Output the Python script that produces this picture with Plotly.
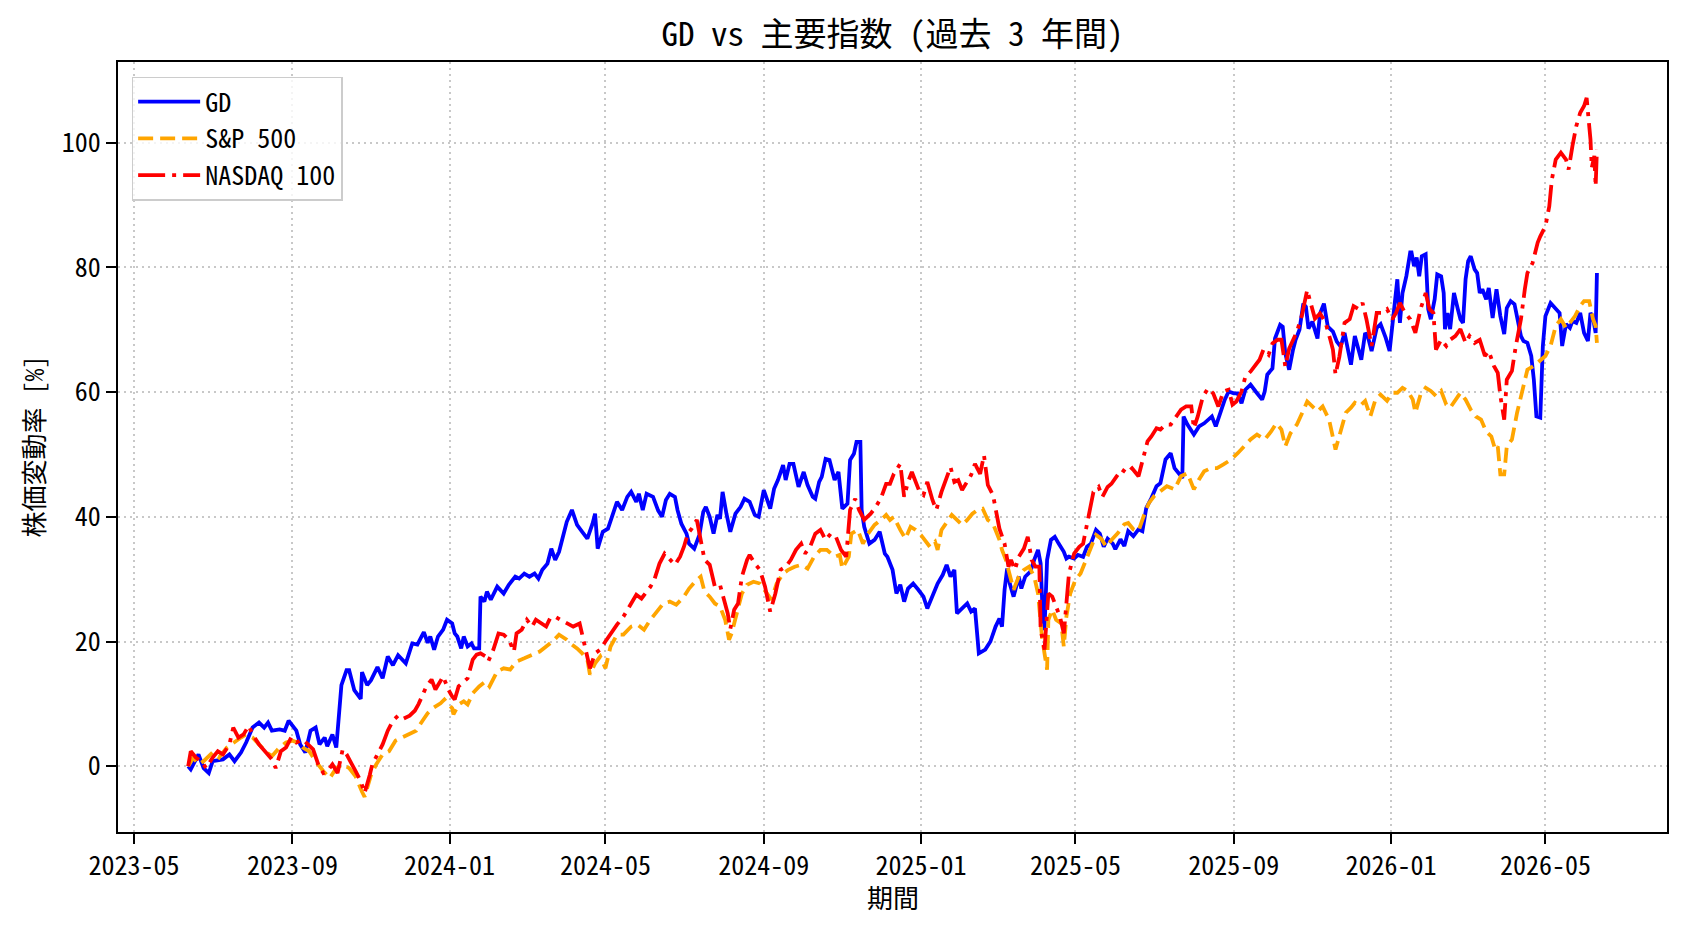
import plotly.graph_objects as go

# ---------------- data (percent change since start) ----------------
gd_dates = [
    "2023-06-12","2023-06-14","2023-06-20","2023-06-24","2023-06-28","2023-07-01","2023-07-09","2023-07-14",
    "2023-07-18","2023-07-23","2023-07-27","2023-08-01","2023-08-06","2023-08-10","2023-08-13","2023-08-16",
    "2023-08-22","2023-08-26","2023-08-29","2023-09-04","2023-09-07","2023-09-11","2023-09-15","2023-09-19",
    "2023-09-22","2023-09-26","2023-09-28","2023-10-02","2023-10-05","2023-10-09","2023-10-13","2023-10-15",
    "2023-10-19","2023-10-24","2023-10-25","2023-10-29","2023-11-01","2023-11-06","2023-11-10","2023-11-14",
    "2023-11-18","2023-11-22","2023-11-28","2023-12-03","2023-12-07","2023-12-12","2023-12-15","2023-12-17",
    "2023-12-20","2023-12-23","2023-12-27","2023-12-30","2024-01-03","2024-01-05","2024-01-07","2024-01-10",
    "2024-01-12","2024-01-15","2024-01-18","2024-01-20","2024-01-24","2024-01-25","2024-01-28","2024-01-30",
    "2024-02-02","2024-02-07","2024-02-12","2024-02-16","2024-02-21","2024-02-24","2024-02-28","2024-03-03",
    "2024-03-07","2024-03-10","2024-03-13","2024-03-17","2024-03-20","2024-03-23","2024-03-26","2024-04-01",
    "2024-04-05","2024-04-09","2024-04-13","2024-04-17","2024-04-21","2024-04-23","2024-04-25","2024-04-29",
    "2024-05-03","2024-05-08","2024-05-10","2024-05-14","2024-05-18","2024-05-21","2024-05-25","2024-05-27",
    "2024-05-30","2024-06-02","2024-06-07","2024-06-11","2024-06-14","2024-06-17","2024-06-20","2024-06-24",
    "2024-06-26","2024-06-29","2024-07-03","2024-07-05","2024-07-09","2024-07-13","2024-07-16","2024-07-18",
    "2024-07-21","2024-07-24","2024-07-27","2024-07-29","2024-07-31","2024-08-03","2024-08-06","2024-08-10",
    "2024-08-14","2024-08-17","2024-08-21","2024-08-25","2024-08-28","2024-09-01","2024-09-04","2024-09-06",
    "2024-09-09","2024-09-12","2024-09-16","2024-09-18","2024-09-21","2024-09-24","2024-09-28","2024-10-02",
    "2024-10-05","2024-10-09","2024-10-11","2024-10-14","2024-10-16","2024-10-19","2024-10-22","2024-10-26",
    "2024-10-29","2024-11-01","2024-11-05","2024-11-07","2024-11-10","2024-11-12","2024-11-15","2024-11-16",
    "2024-11-18","2024-11-22","2024-11-26","2024-11-30","2024-12-04","2024-12-06","2024-12-10","2024-12-13",
    "2024-12-16","2024-12-19","2024-12-22","2024-12-26","2024-12-30","2025-01-03","2025-01-06","2025-01-10",
    "2025-01-14","2025-01-18","2025-01-21","2025-01-24","2025-01-27","2025-01-29","2025-02-02","2025-02-06",
    "2025-02-09","2025-02-12","2025-02-15","2025-02-20","2025-02-24","2025-02-28","2025-03-03","2025-03-05",
    "2025-03-07","2025-03-09","2025-03-11","2025-03-14","2025-03-18","2025-03-20","2025-03-23","2025-03-27",
    "2025-03-30","2025-04-02","2025-04-04","2025-04-06","2025-04-07","2025-04-09","2025-04-12","2025-04-15",
    "2025-04-18","2025-04-22","2025-04-24","2025-04-26","2025-04-30","2025-05-03","2025-05-07","2025-05-10",
    "2025-05-13","2025-05-17","2025-05-20","2025-05-23","2025-05-26","2025-05-30","2025-06-01","2025-06-05",
    "2025-06-08","2025-06-11","2025-06-15","2025-06-19","2025-06-22","2025-06-25","2025-06-29","2025-07-03",
    "2025-07-06","2025-07-10","2025-07-14","2025-07-17","2025-07-21","2025-07-23","2025-07-24","2025-07-27",
    "2025-08-01","2025-08-05","2025-08-09","2025-08-12","2025-08-15","2025-08-18","2025-08-22","2025-08-25",
    "2025-08-28","2025-09-01","2025-09-04","2025-09-07","2025-09-10","2025-09-14","2025-09-18","2025-09-23",
    "2025-09-25","2025-09-27","2025-10-01","2025-10-03","2025-10-07","2025-10-09","2025-10-11","2025-10-14",
    "2025-10-17","2025-10-19","2025-10-22","2025-10-25","2025-10-27","2025-10-29","2025-11-01","2025-11-05",
    "2025-11-07","2025-11-10","2025-11-13","2025-11-17","2025-11-20","2025-11-23","2025-11-26","2025-11-28",
    "2025-12-01","2025-12-04","2025-12-07","2025-12-09","2025-12-12","2025-12-14","2025-12-17","2025-12-21",
    "2025-12-24","2025-12-28","2025-12-31","2026-01-03","2026-01-06","2026-01-08","2026-01-10","2026-01-13",
    "2026-01-16","2026-01-17","2026-01-19","2026-01-21","2026-01-23","2026-01-25","2026-01-28","2026-01-30",
    "2026-02-01","2026-02-04","2026-02-06","2026-02-09","2026-02-11","2026-02-12","2026-02-14","2026-02-16",
    "2026-02-19","2026-02-22","2026-02-24","2026-02-26","2026-02-28","2026-03-02","2026-03-04","2026-03-07",
    "2026-03-09","2026-03-11","2026-03-13","2026-03-16","2026-03-18","2026-03-21","2026-03-24","2026-03-27",
    "2026-03-30","2026-04-01","2026-04-04","2026-04-07","2026-04-09","2026-04-12","2026-04-14","2026-04-17",
    "2026-04-20","2026-04-22","2026-04-24","2026-04-27","2026-04-29","2026-05-01","2026-05-05","2026-05-09",
    "2026-05-12","2026-05-14","2026-05-17","2026-05-20","2026-05-22","2026-05-25","2026-05-28","2026-05-31",
    "2026-06-03","2026-06-05","2026-06-07","2026-06-09","2026-06-10",
]
gd_values = [
    0.0,-0.5,1.9,-0.3,-1.1,0.8,1.1,1.9,
    0.8,2.2,3.8,6.2,7.0,6.2,7.0,5.7,
    5.9,5.7,7.3,5.7,3.5,2.2,5.7,6.2,
    3.5,4.6,3.2,5.1,3.0,13.0,15.4,15.4,
    12.2,10.8,15.1,13.0,13.8,15.9,14.1,17.6,
    16.2,17.8,16.5,19.7,19.5,21.5,19.8,20.8,
    18.7,20.8,21.9,23.5,22.9,21.3,20.8,18.9,
    20.8,19.2,19.7,18.9,18.9,27.2,26.4,28.0,
    26.7,28.8,27.7,29.1,30.4,30.1,30.9,30.4,
    30.9,30.1,31.5,32.5,34.9,33.1,34.4,39.2,
    41.1,38.7,37.6,36.5,38.9,40.5,34.9,37.6,
    38.1,41.1,42.4,41.1,43.2,44.0,42.4,43.7,
    41.1,43.7,43.2,41.0,40.0,42.7,43.7,43.2,
    41.1,38.9,37.3,35.7,34.9,37.1,40.8,41.6,
    40.0,37.3,40.3,39.7,44.0,40.5,37.6,40.5,
    41.6,42.9,42.4,40.3,40.0,44.3,42.4,41.3,
    44.5,45.9,48.3,45.9,48.5,48.5,44.8,47.2,
    45.1,43.2,42.9,45.6,46.4,49.3,49.1,45.9,
    47.2,41.3,42.1,49.1,50.1,52.0,52.0,41.1,
    38.4,35.7,36.3,37.6,34.1,33.6,31.5,27.7,
    29.1,26.4,28.5,29.3,28.3,27.2,25.3,27.2,
    29.3,30.7,32.3,30.4,31.5,24.5,25.3,26.1,
    24.8,25.3,18.1,18.7,20.0,22.4,23.7,22.4,
    28.3,31.7,29.3,27.2,30.4,28.5,30.4,31.2,
    33.1,34.7,32.5,22.4,21.9,33.1,36.3,36.8,
    35.7,34.4,33.3,33.6,33.3,33.9,33.6,35.2,
    35.7,37.9,37.3,35.2,36.5,35.7,34.8,36.4,
    35.3,37.7,36.9,38.0,37.7,41.4,43.0,44.9,
    45.4,49.2,50.2,47.8,46.8,46.2,56.1,54.8,
    53.2,54.5,55.0,55.6,56.1,54.5,56.9,58.8,
    60.1,59.8,59.8,58.2,60.4,61.2,60.1,58.8,
    60.1,62.8,63.8,68.6,70.8,70.5,66.2,63.6,
    66.8,68.4,70.0,74.2,73.7,70.2,71.3,68.6,
    72.6,74.2,70.5,69.7,68.1,67.3,69.5,67.4,
    64.4,69.0,66.8,65.2,69.5,69.0,66.6,70.3,
    70.9,68.7,66.6,72.7,78.1,71.1,75.9,78.6,
    82.4,82.4,80.2,81.6,78.6,81.8,82.1,73.3,
    71.7,74.9,78.9,78.6,75.9,70.1,72.7,70.1,
    75.9,73.3,71.7,71.1,78.1,81.0,81.8,79.7,
    79.1,75.9,76.5,74.9,76.7,71.9,76.5,72.2,
    69.3,73.5,74.6,74.1,71.7,69.0,68.2,67.9,
    65.8,62.0,56.1,55.9,67.4,72.2,74.3,73.3,
    72.7,67.4,70.9,70.3,71.4,71.1,72.7,69.5,
    68.2,72.7,71.9,69.5,79.1,
]

sp_dates = [
    "2023-06-12","2023-06-16","2023-06-20","2023-06-24","2023-07-01","2023-07-06","2023-07-12","2023-07-17",
    "2023-07-23","2023-07-27","2023-08-01","2023-08-06","2023-08-11","2023-08-16","2023-08-22","2023-08-27",
    "2023-09-01","2023-09-05","2023-09-09","2023-09-14","2023-09-19","2023-09-25","2023-09-30","2023-10-05",
    "2023-10-10","2023-10-15","2023-10-20","2023-10-25","2023-10-27","2023-11-01","2023-11-05","2023-11-10",
    "2023-11-15","2023-11-20","2023-11-25","2023-12-01","2023-12-06","2023-12-11","2023-12-15","2023-12-19",
    "2023-12-25","2023-12-28","2024-01-03","2024-01-04","2024-01-08","2024-01-12","2024-01-15","2024-01-19",
    "2024-01-24","2024-01-29","2024-02-01","2024-02-07","2024-02-12","2024-02-17","2024-02-22","2024-02-28",
    "2024-03-05","2024-03-11","2024-03-16","2024-03-21","2024-03-26","2024-04-01","2024-04-05","2024-04-09",
    "2024-04-13","2024-04-17","2024-04-19","2024-04-23","2024-04-27","2024-05-01","2024-05-05","2024-05-10",
    "2024-05-15","2024-05-21","2024-05-26","2024-05-31","2024-06-05","2024-06-09","2024-06-15","2024-06-20",
    "2024-06-25","2024-07-01","2024-07-05","2024-07-11","2024-07-14","2024-07-17","2024-07-21","2024-07-25",
    "2024-07-29","2024-08-02","2024-08-05","2024-08-07","2024-08-11","2024-08-15","2024-08-19","2024-08-24",
    "2024-08-29","2024-09-04","2024-09-07","2024-09-11","2024-09-16","2024-09-20","2024-09-25","2024-09-30",
    "2024-10-05","2024-10-10","2024-10-15","2024-10-20","2024-10-26","2024-10-30","2024-11-01","2024-11-06",
    "2024-11-08","2024-11-13","2024-11-17","2024-11-21","2024-11-26","2024-12-01","2024-12-05","2024-12-08",
    "2024-12-11","2024-12-16","2024-12-20","2024-12-24","2024-12-28","2025-01-01","2025-01-04","2025-01-08",
    "2025-01-12","2025-01-14","2025-01-17","2025-01-21","2025-01-25","2025-01-29","2025-02-02","2025-02-06",
    "2025-02-10","2025-02-14","2025-02-18","2025-02-22","2025-02-26","2025-03-03","2025-03-05","2025-03-08",
    "2025-03-11","2025-03-14","2025-03-18","2025-03-22","2025-03-26","2025-03-30","2025-04-02","2025-04-05",
    "2025-04-07","2025-04-09","2025-04-10","2025-04-13","2025-04-16","2025-04-20","2025-04-22","2025-04-24",
    "2025-04-27","2025-05-01","2025-05-05","2025-05-09","2025-05-13","2025-05-17","2025-05-21","2025-05-25",
    "2025-05-29","2025-06-03","2025-06-08","2025-06-11","2025-06-15","2025-06-19","2025-06-23","2025-06-27",
    "2025-07-01","2025-07-06","2025-07-11","2025-07-17","2025-07-22","2025-07-27","2025-08-01","2025-08-05",
    "2025-08-09","2025-08-14","2025-08-19","2025-08-24","2025-08-30","2025-09-04","2025-09-09","2025-09-14",
    "2025-09-19","2025-09-25","2025-09-30","2025-10-04","2025-10-08","2025-10-11","2025-10-15","2025-10-20",
    "2025-10-24","2025-10-28","2025-11-01","2025-11-05","2025-11-09","2025-11-14","2025-11-19","2025-11-23",
    "2025-11-27","2025-12-01","2025-12-04","2025-12-08","2025-12-12","2025-12-16","2025-12-20","2025-12-24",
    "2025-12-29","2026-01-02","2026-01-06","2026-01-10","2026-01-14","2026-01-18","2026-01-20","2026-01-24",
    "2026-01-28","2026-02-01","2026-02-05","2026-02-09","2026-02-13","2026-02-16","2026-02-20","2026-02-24",
    "2026-02-28","2026-03-04","2026-03-08","2026-03-12","2026-03-16","2026-03-20","2026-03-23","2026-03-25",
    "2026-03-27","2026-03-30","2026-04-01","2026-04-05","2026-04-09","2026-04-13","2026-04-17","2026-04-22",
    "2026-04-27","2026-05-01","2026-05-05","2026-05-09","2026-05-13","2026-05-17","2026-05-20","2026-05-24",
    "2026-05-28","2026-05-31","2026-06-04","2026-06-07","2026-06-09","2026-06-10",
]
sp_values = [
    0.0,1.4,0.3,0.8,2.2,1.4,3.0,3.8,
    4.6,5.1,4.6,3.5,2.4,1.6,3.0,3.8,
    4.1,3.8,3.0,2.4,0.8,-0.8,-1.9,-0.3,
    0.3,-0.3,-1.6,-4.1,-4.9,-1.4,0.3,1.9,
    2.4,4.1,4.6,5.1,5.7,7.3,8.5,9.3,
    10.1,10.7,9.3,8.3,9.9,10.4,9.9,11.7,
    12.8,13.6,12.8,15.2,15.7,15.5,16.8,17.3,
    17.9,18.4,19.2,20.0,21.1,20.3,19.5,18.9,
    18.1,17.1,14.7,16.5,17.6,15.7,19.2,21.1,
    21.1,22.4,22.7,21.9,23.5,24.5,26.1,26.4,
    25.9,27.2,28.5,29.9,30.4,28.0,27.2,26.1,
    25.6,23.5,20.3,21.3,24.5,27.7,29.1,29.6,
    29.3,27.7,26.7,29.3,30.9,31.5,32.0,32.3,
    31.7,33.6,34.7,34.7,33.6,33.9,31.7,33.6,
    37.3,37.9,35.7,37.3,38.7,39.5,40.3,39.5,
    40.0,37.9,36.5,38.4,37.9,37.1,36.3,35.2,
    36.0,34.7,37.9,39.2,40.3,39.5,38.7,39.5,
    40.5,41.1,41.3,39.5,38.9,36.3,34.7,33.1,
    30.9,28.3,30.4,31.5,32.0,30.4,27.7,20.8,
    18.1,15.5,23.5,25.1,23.5,22.9,19.2,24.0,
    27.7,29.9,30.9,33.1,35.2,37.1,36.5,35.2,
    36.3,37.4,38.8,39.0,38.0,37.7,40.1,42.2,
    43.3,44.1,44.9,44.4,46.5,47.0,44.4,46.0,
    47.3,47.8,47.8,48.4,49.2,50.2,51.3,52.4,
    53.2,52.4,53.7,55.0,54.0,51.3,53.4,54.8,
    56.6,58.5,57.7,56.9,57.7,55.6,50.8,54.0,
    56.7,57.5,58.3,57.8,58.6,56.1,58.8,59.6,
    58.6,59.9,59.9,60.7,60.2,58.8,56.7,59.6,
    60.7,60.2,59.4,60.2,58.0,57.5,58.8,59.9,
    58.8,57.2,56.1,55.6,53.7,52.9,50.8,51.3,
    46.8,46.8,51.3,52.4,56.7,59.9,63.6,64.2,
    65.2,65.8,67.4,70.6,71.7,70.3,71.1,72.2,
    73.8,74.6,74.6,71.7,70.6,67.9,
]

nq_dates = [
    "2023-06-12","2023-06-14","2023-06-18","2023-06-22","2023-06-26","2023-07-01","2023-07-05","2023-07-09",
    "2023-07-14","2023-07-17","2023-07-21","2023-07-25","2023-07-29","2023-08-01","2023-08-06","2023-08-11",
    "2023-08-16","2023-08-19","2023-08-23","2023-08-27","2023-08-31","2023-09-04","2023-09-09","2023-09-13",
    "2023-09-17","2023-09-21","2023-09-25","2023-09-28","2023-10-02","2023-10-06","2023-10-10","2023-10-13",
    "2023-10-17","2023-10-20","2023-10-24","2023-10-27","2023-10-31","2023-11-02","2023-11-06","2023-11-10",
    "2023-11-14","2023-11-18","2023-11-22","2023-11-26","2023-12-01","2023-12-05","2023-12-08","2023-12-12",
    "2023-12-14","2023-12-18","2023-12-21","2023-12-27","2023-12-31","2024-01-03","2024-01-05","2024-01-08",
    "2024-01-12","2024-01-15","2024-01-19","2024-01-22","2024-01-25","2024-01-29","2024-01-31","2024-02-04",
    "2024-02-08","2024-02-12","2024-02-16","2024-02-20","2024-02-22","2024-02-26","2024-03-01","2024-03-05",
    "2024-03-08","2024-03-12","2024-03-16","2024-03-19","2024-03-23","2024-03-27","2024-04-01","2024-04-06",
    "2024-04-11","2024-04-15","2024-04-17","2024-04-19","2024-04-23","2024-04-27","2024-05-01","2024-05-05",
    "2024-05-10","2024-05-15","2024-05-21","2024-05-25","2024-05-29","2024-06-01","2024-06-05","2024-06-08",
    "2024-06-12","2024-06-16","2024-06-20","2024-06-24","2024-06-28","2024-07-01","2024-07-04","2024-07-07",
    "2024-07-11","2024-07-14","2024-07-17","2024-07-21","2024-07-25","2024-07-29","2024-08-01","2024-08-04",
    "2024-08-06","2024-08-09","2024-08-12","2024-08-15","2024-08-19","2024-08-21","2024-08-25","2024-08-29",
    "2024-09-02","2024-09-06","2024-09-10","2024-09-14","2024-09-18","2024-09-22","2024-09-26","2024-09-30",
    "2024-10-03","2024-10-07","2024-10-11","2024-10-15","2024-10-19","2024-10-23","2024-10-27","2024-10-31",
    "2024-11-04","2024-11-07","2024-11-11","2024-11-14","2024-11-18","2024-11-23","2024-11-27","2024-12-01",
    "2024-12-05","2024-12-08","2024-12-11","2024-12-16","2024-12-19","2024-12-22","2024-12-25","2024-12-28",
    "2024-12-31","2025-01-03","2025-01-06","2025-01-10","2025-01-13","2025-01-17","2025-01-20","2025-01-24",
    "2025-01-27","2025-01-30","2025-02-02","2025-02-06","2025-02-09","2025-02-12","2025-02-16","2025-02-19",
    "2025-02-22","2025-02-26","2025-02-28","2025-03-03","2025-03-07","2025-03-10","2025-03-12","2025-03-15",
    "2025-03-18","2025-03-22","2025-03-25","2025-03-28","2025-03-31","2025-04-03","2025-04-04","2025-04-07",
    "2025-04-10","2025-04-13","2025-04-16","2025-04-19","2025-04-22","2025-04-24","2025-04-26","2025-04-30",
    "2025-05-04","2025-05-07","2025-05-12","2025-05-15","2025-05-19","2025-05-22","2025-05-26","2025-05-29",
    "2025-06-02","2025-06-06","2025-06-10","2025-06-14","2025-06-19","2025-06-23","2025-06-26","2025-06-29",
    "2025-07-03","2025-07-06","2025-07-10","2025-07-14","2025-07-18","2025-07-22","2025-07-26","2025-07-30",
    "2025-08-01","2025-08-04","2025-08-08","2025-08-12","2025-08-16","2025-08-20","2025-08-24","2025-08-28",
    "2025-08-31","2025-09-03","2025-09-07","2025-09-10","2025-09-14","2025-09-17","2025-09-21","2025-09-24",
    "2025-09-28","2025-10-01","2025-10-05","2025-10-08","2025-10-11","2025-10-14","2025-10-17","2025-10-20",
    "2025-10-24","2025-10-28","2025-10-30","2025-11-03","2025-11-07","2025-11-11","2025-11-15","2025-11-17",
    "2025-11-19","2025-11-22","2025-11-26","2025-11-30","2025-12-03","2025-12-07","2025-12-10","2025-12-13",
    "2025-12-17","2025-12-21","2025-12-25","2025-12-29","2026-01-02","2026-01-05","2026-01-08","2026-01-12",
    "2026-01-16","2026-01-20","2026-01-24","2026-01-28","2026-01-31","2026-02-03","2026-02-05","2026-02-09",
    "2026-02-13","2026-02-16","2026-02-20","2026-02-24","2026-02-28","2026-03-03","2026-03-07","2026-03-11",
    "2026-03-15","2026-03-18","2026-03-22","2026-03-25","2026-03-27","2026-03-30","2026-04-01","2026-04-05",
    "2026-04-08","2026-04-12","2026-04-15","2026-04-17","2026-04-21","2026-04-25","2026-04-27","2026-05-01",
    "2026-05-04","2026-05-06","2026-05-09","2026-05-13","2026-05-17","2026-05-19","2026-05-22","2026-05-25",
    "2026-05-28","2026-05-31","2026-06-02","2026-06-05","2026-06-06","2026-06-08","2026-06-09","2026-06-10",
]
nq_values = [
    0.0,2.4,1.4,0.8,-0.3,1.4,2.4,1.9,
    3.5,6.2,4.6,5.1,6.5,5.1,3.5,2.2,
    1.1,-0.3,2.4,3.0,4.6,3.8,4.3,3.5,
    2.7,0.3,-1.1,-0.8,0.3,-1.1,2.7,1.9,
    0.5,-0.8,-2.4,-4.3,-1.4,0.3,1.9,3.5,
    5.7,7.3,8.1,7.6,8.1,8.9,10.0,12.0,
    12.8,13.9,12.3,14.4,12.3,11.2,10.7,12.8,
    13.6,14.1,17.1,17.9,18.1,17.6,16.8,18.7,
    21.3,21.1,20.3,18.4,21.3,21.9,23.5,22.4,
    23.5,22.9,22.4,23.7,24.0,23.5,22.9,22.4,
    22.9,19.2,17.1,15.7,18.1,18.7,20.0,21.3,
    22.7,24.0,26.1,27.5,26.9,27.7,28.8,29.9,
    32.5,34.1,33.3,32.3,33.6,35.2,37.3,38.1,
    39.5,36.3,33.1,32.3,28.8,29.1,26.7,24.5,
    22.0,25.1,26.1,30.4,33.1,33.9,32.5,31.5,
    28.8,24.8,27.7,31.5,32.0,33.1,34.7,35.7,
    34.1,35.2,37.3,37.9,36.3,37.3,36.8,34.7,
    33.6,41.1,42.9,41.1,39.5,40.5,41.6,43.0,
    45.3,45.3,46.9,48.5,43.2,45.6,47.2,45.6,
    44.0,43.5,45.6,42.7,41.1,44.0,45.6,48.0,
    45.6,45.9,44.3,45.6,46.7,48.5,46.9,49.9,
    45.1,43.5,41.1,38.1,35.7,32.0,33.1,31.5,
    33.6,34.9,36.8,33.1,32.0,32.0,21.9,18.7,
    27.7,27.2,25.6,24.0,21.3,26.1,30.9,34.1,
    35.2,35.7,41.1,44.0,44.8,43.2,44.8,45.3,
    46.5,47.6,47.0,47.8,46.5,49.7,52.1,52.9,
    54.2,54.0,54.8,54.8,56.1,57.2,57.7,57.7,
    54.2,56.1,59.3,60.6,59.8,57.7,60.1,60.4,
    58.0,58.5,60.1,62.5,63.3,64.1,65.2,66.8,
    66.0,67.8,68.4,68.4,64.1,67.0,68.4,69.7,
    72.4,76.4,74.8,71.8,72.6,71.3,68.4,66.8,
    62.8,65.7,71.1,71.7,73.8,73.3,74.3,71.7,
    67.4,72.7,72.7,73.3,71.7,72.7,74.3,72.7,
    71.7,69.5,73.3,75.9,73.3,72.7,66.8,68.4,
    67.4,68.4,69.0,70.1,67.9,69.0,67.9,68.4,
    65.8,66.6,64.2,63.1,59.4,55.6,62.0,63.4,
    67.4,71.7,76.5,79.1,80.7,84.0,85.0,86.6,
    89.8,94.1,97.3,98.4,97.3,95.7,99.5,102.7,
    104.8,105.9,107.2,100.5,96.0,97.9,93.0,98.9,
]

series_names = ["GD", "S&P 500", "NASDAQ 100"]
title_text = "GD vs 主要指数 (過去 3 年間)"
x_title = "期間"
y_title = "株価変動率 [%]"
y_ticks = [0, 20, 40, 60, 80, 100]

# ---------------- figure ----------------
FONT = "Noto Sans Mono CJK JP, Noto Sans CJK JP, sans-serif"
LW = 3.8

fig = go.Figure()
fig.add_trace(go.Scatter(x=gd_dates, y=gd_values, mode="lines", name=series_names[0],
                         line=dict(color="#0000ff", width=LW)))
fig.add_trace(go.Scatter(x=sp_dates, y=sp_values, mode="lines", name=series_names[1],
                         line=dict(color="#ffa500", width=LW, dash="15px,7px")))
fig.add_trace(go.Scatter(x=nq_dates, y=nq_values, mode="lines", name=series_names[2],
                         line=dict(color="#ff0000", width=LW, dash="27px,7px,4px,7px")))

axis_common = dict(
    showline=True, linecolor="black", linewidth=2, mirror=True,
    ticks="outside", ticklen=10, tickwidth=2, tickcolor="black",
    showgrid=True, gridcolor="#c8c8c8", gridwidth=1.5, griddash="2px,4px",
    zeroline=False, tickfont=dict(size=26, color="black"),
)

fig.update_layout(
    width=1688, height=932,
    margin=dict(l=118, r=21, t=62, b=100),
    paper_bgcolor="white", plot_bgcolor="white",
    font=dict(family=FONT, size=26, color="black"),
    title=dict(text=title_text, x=0.5, xref="paper", xanchor="center",
               y=1 - 34.5 / 932, yref="container", yanchor="middle",
               font=dict(size=33, color="black")),
    showlegend=True,
    legend=dict(x=0.0088, y=0.981, xanchor="left", yanchor="top",
                bgcolor="rgba(255,255,255,0.8)", bordercolor="#cccccc", borderwidth=1.5,
                font=dict(size=26), tracegroupgap=0, itemwidth=62),
    xaxis=dict(type="date", range=["2023-04-18 12:00", "2026-08-03 10:00"],
               tick0="2023-05-01", dtick="M4", tickformat="%Y-%m", **axis_common),
    yaxis=dict(range=[-10.55, 112.95], tickvals=y_ticks, ticktext=[str(v) for v in y_ticks],
               **axis_common),
    annotations=[
        dict(text=x_title, xref="paper", yref="paper", x=0.5, y=-0.0842,
             xanchor="center", yanchor="middle", showarrow=False, font=dict(size=26)),
        dict(text=y_title, xref="paper", yref="paper", x=-0.0558, y=0.5, textangle=-90,
             xanchor="center", yanchor="middle", showarrow=False, font=dict(size=26)),
    ],
)

fig.write_html("out.html")
